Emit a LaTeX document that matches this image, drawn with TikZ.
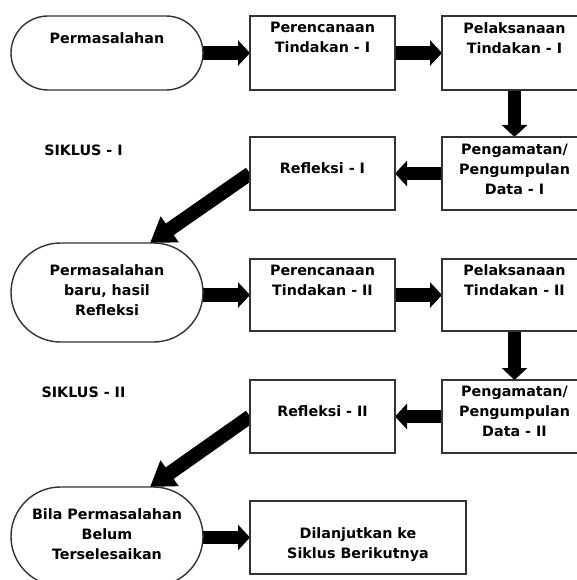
\documentclass[tikz,border=0pt]{standalone}
\usepackage{fontspec}
\setmainfont{DejaVu Sans}
\usetikzlibrary{arrows.meta,backgrounds}
\begin{document}
\begin{tikzpicture}[x=1bp,y=-1bp,
  box/.style={draw=black!80, line width=1.4bp, fill=white, inner sep=0pt, outer sep=0pt},
  stad/.style={box, minimum width=192bp},
  rbox/.style={box, minimum width=145bp, minimum height=73bp},
  txt/.style={font=\bfseries\fontsize{14.3bp}{20bp}\selectfont, align=center, inner sep=0pt, anchor=north, text=black},
  harrow/.style={line width=13.5bp, -{Triangle[width=25bp,length=12bp]}},
  darrow/.style={line width=14bp, -{Triangle[width=30bp,length=24bp]}}]
\useasboundingbox (0,0) rectangle (577,580);
\clip (0,0) rectangle (577,580);
% row 1
\node[stad, rounded corners=37bp, minimum height=74bp] (s1) at (107,53) {};
\node[rbox, minimum height=74bp] (p1) at (322.5,53) {};
\node[rbox, minimum height=74bp] (l1) at (514.5,53) {};
% row 2
\node[rbox] (r1) at (322.5,173.5) {};
\node[rbox] (g1) at (514.5,173.5) {};
% row 3
\node[stad, rounded corners=49.5bp, minimum height=99bp] (s2) at (107,292.5) {};
\node[rbox, minimum height=72bp] (p2) at (322.5,295) {};
\node[rbox, minimum height=72bp] (l2) at (514.5,295) {};
% row 4
\node[rbox] (r2) at (322.5,416.5) {};
\node[rbox] (g2) at (514.5,416.5) {};
% row 5
\node[stad, rounded corners=49.5bp, minimum height=99bp] (s3) at (107,536.5) {};
\node[box, minimum width=216bp, minimum height=73bp] (d) at (358,537.5) {};
% arrow targets
\coordinate (t1) at (150,243);
\coordinate (t2) at (150,487);
% texts
\node[txt] (s1t) at (107,32.5) {Permasalahan};
\node[txt] (p1t) at (322.5,22) {Perencanaan\\Tindakan - I};
\node[txt] (l1t) at (514.5,22) {Pelaksanaan\\Tindakan - I};
\node[txt] (k1) at (83.5,144.5) {SIKLUS - I};
\node[txt] (r1t) at (322.5,162.5) {Refleksi - I};
\node[txt] (g1t) at (514.5,143.5) {Pengamatan/\\Pengumpulan\\Data - I};
\node[txt] (s2t) at (107,264.5) {Permasalahan\\baru, hasil\\Refleksi};
\node[txt] (p2t) at (322.5,264.5) {Perencanaan\\Tindakan - II};
\node[txt] (l2t) at (514.5,264.5) {Pelaksanaan\\Tindakan - II};
\node[txt] (k2) at (83.5,386.5) {SIKLUS - II};
\node[txt] (r2t) at (322.5,405.5) {Refleksi - II};
\node[txt] (g2t) at (514.5,385.5) {Pengamatan/\\Pengumpulan\\Data - II};
\node[txt] (s3t) at (107,508.5) {Bila Permasalahan\\Belum\\Terselesaikan};
\node[txt] (dt) at (358,527) {Dilanjutkan ke\\Siklus Berikutnya};
% arrows
\begin{scope}[on background layer]
\draw[harrow] (s1.east) -- (p1.west);
\draw[harrow] (p1.east) -- (l1.west);
\draw[harrow] (l1.south) -- (g1.north);
\draw[harrow] (g1.west) -- (r1.east);
\draw[darrow] (r1.west) -- (t1);
\draw[harrow] (s2.east |- p2.west) -- (p2.west);
\draw[harrow] (p2.east) -- (l2.west);
\draw[harrow] (l2.south) -- (g2.north);
\draw[harrow] (g2.west) -- (r2.east);
\draw[darrow] (r2.west) -- (t2);
\draw[harrow] (s3.east |- d.west) -- (d.west);
\end{scope}
\end{tikzpicture}
\end{document}
